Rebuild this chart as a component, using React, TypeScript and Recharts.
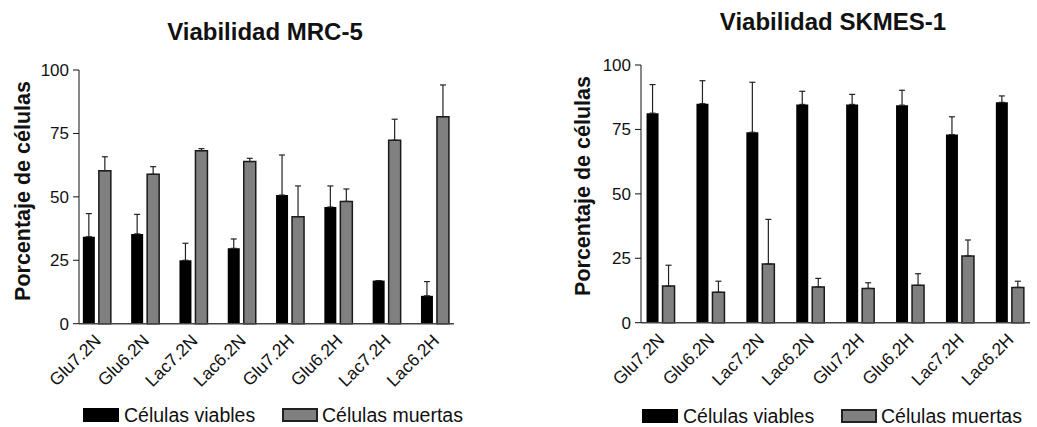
import { BarChart, Bar, XAxis, YAxis, ErrorBar } from "recharts";

// Treatment groups (x categories)
const categories = ["Glu7.2N", "Glu6.2N", "Lac7.2N", "Lac6.2N", "Glu7.2H", "Glu6.2H", "Lac7.2H", "Lac6.2H"];
const yTicks = [0, 25, 50, 75, 100];

// MRC-5: mean % and SD (only the upper whisker is drawn)
const mrcViables = [34.3, 35.4, 25.0, 29.7, 50.7, 46.0, 17.0, 11.0];
const mrcViablesSd = [9.1, 7.7, 6.7, 3.7, 15.8, 8.3, 0, 5.6];
const mrcMuertas = [60.3, 58.9, 68.2, 63.9, 42.2, 48.2, 72.3, 81.6];
const mrcMuertasSd = [5.5, 3.0, 0.8, 1.3, 12.1, 4.9, 8.3, 12.5];

// SKMES-1
const skViables = [81.3, 85.0, 73.9, 84.7, 84.7, 84.4, 73.0, 85.5];
const skViablesSd = [11.1, 8.9, 19.4, 5.1, 3.9, 5.8, 6.9, 2.5];
const skMuertas = [14.2, 11.8, 22.8, 13.9, 13.3, 14.5, 25.9, 13.7];
const skMuertasSd = [8.1, 4.3, 17.3, 3.3, 2.2, 4.5, 6.2, 2.4];

const seriesNames = ["Células viables", "Células muertas"];

const FONT = '"Liberation Sans", Arial, Helvetica, sans-serif';
const BLACK = "#000000";
const GREY = "#808080";

function buildRows(viables: number[], vSd: number[], muertas: number[], mSd: number[]) {
  return categories.map((name, i) => ({
    name,
    viables: viables[i],
    viablesErr: [0, vSd[i]],
    muertas: muertas[i],
    muertasErr: [0, mSd[i]],
  }));
}

const mrcRows = buildRows(mrcViables, mrcViablesSd, mrcMuertas, mrcMuertasSd);
const skRows = buildRows(skViables, skViablesSd, skMuertas, skMuertasSd);

function CategoryTick({ x, y, payload }: { x?: number; y?: number; payload?: { value: string } }) {
  const ax = (x ?? 0) + 5;
  const ay = (y ?? 0) + 18;
  return (
    <text
      x={ax}
      y={ay}
      transform={`rotate(-45 ${ax} ${ay})`}
      textAnchor="end"
      fontSize={17.5}
      fontFamily={FONT}
      fill="#111"
    >
      {payload?.value}
    </text>
  );
}

type PanelProps = {
  rows: ReturnType<typeof buildRows>;
  left: number;
  width: number;
  top: number;
  axisX: number;
  axisEnd: number;
  zeroY: number;
  padL: number;
  padR: number;
};

function Panel({ rows, left, width, top, axisX, axisEnd, zeroY, padL, padR }: PanelProps) {
  return (
    <div style={{ position: "absolute", left, top: 0 }}>
      <BarChart
        width={width}
        height={427}
        data={rows}
        margin={{ top, right: width - (axisEnd - left), left: 0, bottom: 0 }}
        barGap={4}
      >
        <XAxis
          dataKey="name"
          tick={<CategoryTick />}
          tickLine={false}
          tickSize={0}
          tickMargin={0}
          interval={0}
          height={427 - zeroY}
          padding={{ left: padL, right: padR }}
          axisLine={{ stroke: "#444", strokeWidth: 1.5 }}
        />
        <YAxis
          width={axisX - left}
          domain={[0, 100]}
          ticks={yTicks}
          interval={0}
          tickSize={6}
          tickMargin={4}
          axisLine={{ stroke: "#111", strokeWidth: 1 }}
          tickLine={{ stroke: "#111", strokeWidth: 1 }}
          tick={{ fill: "#111", fontSize: 17, fontFamily: FONT }}
        />
        <Bar dataKey="viables" fill={BLACK} barSize={12} isAnimationActive={false}>
          <ErrorBar dataKey="viablesErr" width={3} stroke="#222" strokeWidth={1.2} />
        </Bar>
        <Bar dataKey="muertas" fill={GREY} stroke="#1a1a1a" strokeWidth={1.5} barSize={12} isAnimationActive={false}>
          <ErrorBar dataKey="muertasErr" width={3} stroke="#222" strokeWidth={1.2} />
        </Bar>
      </BarChart>
    </div>
  );
}

function Legend({ x, y }: { x: number; y: number }) {
  const items = [
    { name: seriesNames[0], fill: BLACK, border: "none", dx: 0, tx: 41, h: 14 },
    { name: seriesNames[1], fill: GREY, border: "2px solid #222", dx: 199, tx: 239, h: 10 },
  ];
  return (
    <>
      {items.map((it) => (
        <div key={it.name}>
          <div
            style={{
              position: "absolute",
              left: x + it.dx,
              top: y + (14 - it.h - (it.border === "none" ? 0 : 4)) / 2,
              width: it.border === "none" ? 36 : 32,
              height: it.h,
              background: it.fill,
              border: it.border,
            }}
          />
          <div
            style={{
              position: "absolute",
              left: x + it.tx,
              top: y - 4,
              fontSize: 19.5,
              fontFamily: FONT,
              color: "#111",
              lineHeight: "22px",
              whiteSpace: "nowrap",
            }}
          >
            {it.name}
          </div>
        </div>
      ))}
    </>
  );
}

function Title({ text, cx, cy }: { text: string; cx: number; cy: number }) {
  return (
    <div
      style={{
        position: "absolute",
        left: cx,
        top: cy,
        transform: "translate(-50%, -50%)",
        fontFamily: FONT,
        fontWeight: 700,
        fontSize: 24,
        color: "#111",
        whiteSpace: "nowrap",
      }}
    >
      {text}
    </div>
  );
}

function YLabel({ cx, cy }: { cx: number; cy: number }) {
  return (
    <div
      style={{
        position: "absolute",
        left: cx,
        top: cy,
        transform: "translate(-50%, -50%) rotate(-90deg)",
        fontFamily: FONT,
        fontWeight: 700,
        fontSize: 21.5,
        color: "#111",
        whiteSpace: "nowrap",
      }}
    >
      Porcentaje de células
    </div>
  );
}

export default function App() {
  return (
    <div
      style={{
        position: "absolute",
        left: 0,
        top: 0,
        width: 1037,
        height: 427,
        background: "#fff",
        overflow: "hidden",
      }}
    >
      <Panel rows={mrcRows} left={0} width={480} top={70} axisX={79} axisEnd={454} zeroY={323.7} padL={-6.15} padR={-5.25} />
      <Panel rows={skRows} left={540} width={497} top={65} axisX={641} axisEnd={1030} zeroY={322.7} padL={-5.45} padR={-4.75} />

      <Title text="Viabilidad MRC-5" cx={265} cy={32} />
      <Title text="Viabilidad SKMES-1" cx={833} cy={22} />
      <YLabel cx={23} cy={191} />
      <YLabel cx={583} cy={186} />

      <Legend x={83} y={408} />
      <Legend x={642} y={409} />
    </div>
  );
}
